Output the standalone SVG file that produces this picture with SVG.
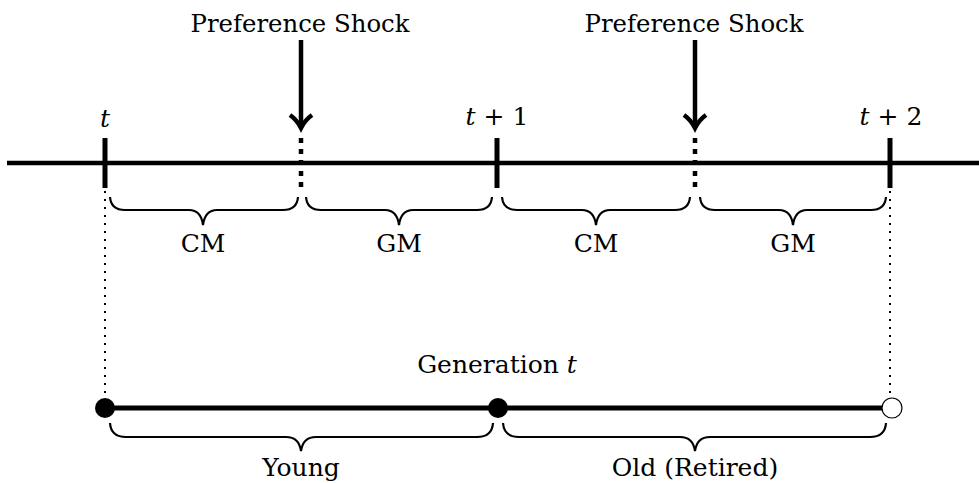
<svg xmlns="http://www.w3.org/2000/svg" width="979" height="483" viewBox="0 0 979 483">
<defs>
<style>
text{font-family:"DejaVu Serif","Liberation Serif",serif;font-size:25px;fill:#000;text-anchor:middle}
.it{font-style:italic}
.thick{stroke:#000;stroke-width:4.5;fill:none}
.tick{stroke:#000;stroke-width:5;fill:none}
.dash{stroke:#000;stroke-width:4.5;stroke-dasharray:5 6;fill:none}
.dot{stroke:#000;stroke-width:2;stroke-dasharray:2 6;fill:none}
.brace{stroke:#000;stroke-width:2.2;fill:none}
</style>
</defs>
<rect width="979" height="483" fill="#fff"/>
<g id="connectors">
<line class="thick" x1="7" y1="163" x2="979" y2="163"/>
<line class="dot" x1="105" y1="191" x2="105" y2="398"/>
<line class="dot" x1="890" y1="191" x2="890" y2="398"/>
<line class="tick" x1="105" y1="408" x2="882" y2="408"/>
<g id="arrow1">
<line class="thick" x1="301" y1="40" x2="301" y2="126"/>
<path class="thick" d="M290,115 Q297,120 301,128 Q305,120 312,115"/>
</g>
<g id="arrow2">
<line class="thick" x1="695" y1="40" x2="695" y2="126"/>
<path class="thick" d="M684,115 Q691,120 695,128 Q699,120 706,115"/>
</g>
</g>
<g id="tick-t">
<line class="tick" x1="105" y1="138" x2="105" y2="188"/>
<text class="it" x="105" y="127">t</text>
</g>
<g id="tick-t1">
<line class="tick" x1="497" y1="138" x2="497" y2="188"/>
<text x="497" y="125"><tspan class="it">t</tspan> + 1</text>
</g>
<g id="tick-t2">
<line class="tick" x1="890" y1="138" x2="890" y2="188"/>
<text x="891" y="125"><tspan class="it">t</tspan> + 2</text>
</g>
<g id="shock1">
<line class="dash" x1="301" y1="138" x2="301" y2="187"/>
<text x="300" y="32" textLength="219" lengthAdjust="spacingAndGlyphs">Preference Shock</text>
</g>
<g id="shock2">
<line class="dash" x1="695" y1="138" x2="695" y2="187"/>
<text x="694" y="32" textLength="219" lengthAdjust="spacingAndGlyphs">Preference Shock</text>
</g>
<g id="cm1">
<path class="brace" d="M110,197 Q111,210 125,210 L189,210 Q201,210 203,225 Q205,210 217,210 L283,210 Q297,210 298,197"/>
<text x="203" y="252">CM</text>
</g>
<g id="gm1">
<path class="brace" d="M306,197 Q307,210 321,210 L385,210 Q397,210 399,225 Q401,210 413,210 L477,210 Q491,210 492,197"/>
<text x="399" y="252">GM</text>
</g>
<g id="cm2">
<path class="brace" d="M502,197 Q503,210 517,210 L582,210 Q594,210 596,225 Q598,210 610,210 L675,210 Q689,210 690,197"/>
<text x="596" y="252">CM</text>
</g>
<g id="gm2">
<path class="brace" d="M700,197 Q701,210 715,210 L779,210 Q791,210 793,225 Q795,210 807,210 L871,210 Q885,210 886,197"/>
<text x="793" y="252">GM</text>
</g>
<g id="generation">
<text x="497" y="373">Generation <tspan class="it">t</tspan></text>
</g>
<g id="node-start">
<circle cx="105" cy="408" r="10" fill="#000"/>
</g>
<g id="node-mid">
<circle cx="498" cy="408" r="10" fill="#000"/>
</g>
<g id="node-end">
<circle cx="892" cy="408" r="10" fill="#fff" stroke="#000" stroke-width="1.2"/>
</g>
<g id="young">
<path class="brace" d="M110,423 Q111,437 126,437 L286,437 Q299,437 301,451 Q303,437 316,437 L477,437 Q492,437 493,423"/>
<text x="301" y="476">Young</text>
</g>
<g id="old">
<path class="brace" d="M503,423 Q504,437 519,437 L680,437 Q693,437 695,451 Q697,437 710,437 L870,437 Q885,437 886,423"/>
<text x="695" y="476">Old (Retired)</text>
</g>
</svg>
